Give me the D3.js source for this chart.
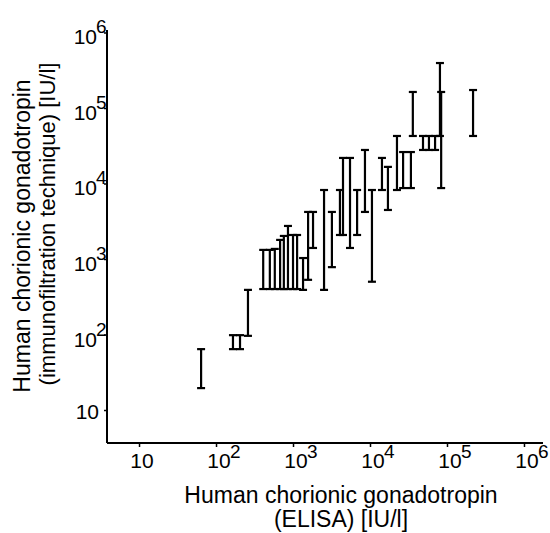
<!DOCTYPE html>
<html>
<head>
<meta charset="utf-8">
<script src="https://cdn.jsdelivr.net/npm/d3@7"></script>
<style>
body { margin: 0; background: #fff; }
text { font-family: "Liberation Sans", Arial, sans-serif; fill: #000; }
</style>
</head>
<body>
<svg id="chart" width="550" height="533"></svg>
<script>
// hCG, ELISA result (x) against the immunofiltration range (low..high)
var elisa  = [64, 166, 205, 260, 410, 500, 580, 680, 760, 860, 1000, 1130, 1350, 1570, 1820,
              2530, 3200, 4070, 4460, 5500, 6800, 8600, 10600, 14300, 17100, 22400, 26900,
              34000, 36000, 48800, 58300, 70000, 81000, 84000, 218000];
var ifLow  = [19.5, 64, 64, 96, 400, 400, 400, 400, 400, 400, 400, 400, 390, 530, 1400,
              390, 780, 2080, 2080, 1400, 2080, 4200, 500, 8200, 4460, 8200, 8700,
              8700, 42600, 27800, 27800, 27800, 42600, 8700, 42600];
var ifHigh = [64, 98, 98, 390, 1320, 1320, 1360, 1790, 2020, 2740, 2080, 2080, 1030, 4200, 4200,
              8200, 4200, 8200, 21800, 21800, 8200, 27800, 8200, 21800, 16600, 42600, 26100,
              26100, 163000, 42600, 42600, 42600, 394000, 163000, 173000];
var tickExp = [1, 2, 3, 4, 5, 6];

var svg = d3.select("#chart");

var x = d3.scaleLog().domain([Math.pow(10, 0.584), Math.pow(10, 6.247)]).range([107, 543]);
var y = d3.scaleLog().domain([Math.pow(10, 0.563), Math.pow(10, 6.033)]).range([443, 30]);

var bars = elisa.map(function(d, i) { return { x: d, lo: ifLow[i], hi: ifHigh[i] }; });

// axes
svg.append("g")
	.attr("transform", "translate(0,443)")
	.call(d3.axisBottom(x).tickValues(tickExp.map(function(e){ return Math.pow(10, e); }))
		.tickSize(4).tickFormat(""))
	.call(function(g){ g.select(".domain").attr("stroke-width", 2).attr("d", "M107,0H543"); })
	.selectAll(".tick line").attr("stroke-width", 1.5);

svg.append("g")
	.attr("transform", "translate(107,0)")
	.call(d3.axisLeft(y).tickValues(tickExp.map(function(e){ return Math.pow(10, e); }))
		.tickSize(3).tickFormat(""))
	.call(function(g){ g.select(".domain").attr("stroke-width", 2).attr("d", "M0,30V443"); })
	.selectAll(".tick line").attr("stroke-width", 1.5);

// tick labels: "10" with the exponent raised to the right
var xLab = svg.append("g").selectAll("g").data(tickExp).enter().append("g")
	.attr("transform", function(e){ return "translate(" + x(Math.pow(10, e)) + ",0)"; });
xLab.append("text")
	.attr("x", 3).attr("y", 468)
	.attr("text-anchor", "middle")
	.style("font-size", "21px")
	.text("10");
xLab.filter(function(e){ return e > 1; }).append("text")
	.attr("x", 14).attr("y", 458)
	.style("font-size", "19px")
	.text(function(e){ return e; });

var yLab = svg.append("g").selectAll("g").data(tickExp).enter().append("g")
	.attr("transform", function(e){ return "translate(0," + y(Math.pow(10, e)) + ")"; });
yLab.append("text")
	.attr("x", function(e){ return e > 1 ? 97 : 99; })
	.attr("y", function(e){ return e > 1 ? 12 : 9; })
	.attr("text-anchor", "end")
	.style("font-size", "21px")
	.text("10");
yLab.filter(function(e){ return e > 1; }).append("text")
	.attr("x", 96).attr("y", 1)
	.style("font-size", "19px")
	.text(function(e){ return e; });

// axis titles
svg.append("text")
	.attr("x", 341).attr("y", 503)
	.attr("text-anchor", "middle")
	.style("font-size", "23px")
	.text("Human chorionic gonadotropin");
svg.append("text")
	.attr("x", 341).attr("y", 527)
	.attr("text-anchor", "middle")
	.style("font-size", "23px")
	.text("(ELISA) [IU/l]");

svg.append("text")
	.attr("transform", "translate(30,236) rotate(-90)")
	.attr("text-anchor", "middle")
	.style("font-size", "23px")
	.text("Human chorionic gonadotropin");
svg.append("text")
	.attr("transform", "translate(55,224) rotate(-90)")
	.attr("text-anchor", "middle")
	.style("font-size", "22px")
	.text("(immunofiltration technique) [IU/l]");

// range bars
var capW = 4;
var bar = svg.append("g").selectAll(".bar").data(bars).enter().append("g")
	.attr("class", "bar")
	.attr("stroke", "#000")
	.attr("stroke-width", 2.2);
bar.append("line")
	.attr("x1", function(d){ return x(d.x); }).attr("x2", function(d){ return x(d.x); })
	.attr("y1", function(d){ return y(d.lo); }).attr("y2", function(d){ return y(d.hi); });
bar.append("line")
	.attr("x1", function(d){ return x(d.x) - capW; }).attr("x2", function(d){ return x(d.x) + capW; })
	.attr("y1", function(d){ return y(d.lo); }).attr("y2", function(d){ return y(d.lo); });
bar.append("line")
	.attr("x1", function(d){ return x(d.x) - capW; }).attr("x2", function(d){ return x(d.x) + capW; })
	.attr("y1", function(d){ return y(d.hi); }).attr("y2", function(d){ return y(d.hi); });
</script>
</body>
</html>
